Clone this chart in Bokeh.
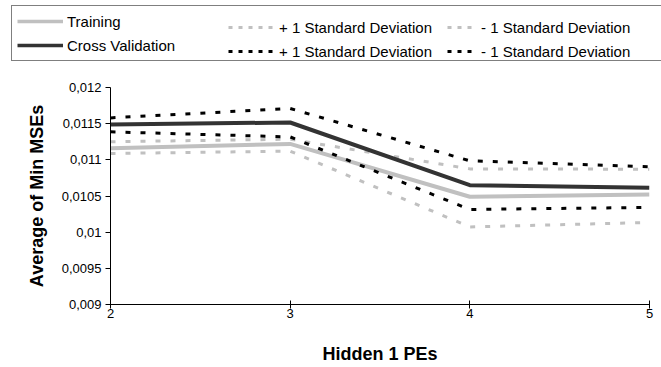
from bokeh.plotting import figure
from bokeh.models import Legend, LegendItem, FixedTicker, Range1d
from bokeh.embed import file_html
from bokeh.resources import INLINE

# ---- data ----
hidden_pes = [2, 3, 4, 5]
training = [0.01116, 0.01122, 0.01049, 0.01052]
training_plus_sd = [0.01125, 0.011285, 0.010875, 0.01087]
training_minus_sd = [0.011088, 0.01112, 0.010073, 0.010134]
cross_val = [0.01149, 0.011516, 0.01065, 0.010613]
cross_val_plus_sd = [0.01158, 0.01171, 0.010986, 0.010903]
cross_val_minus_sd = [0.011387, 0.011317, 0.010314, 0.010342]

x_ticks = [2, 3, 4, 5]
y_ticks = [0.009, 0.0095, 0.01, 0.0105, 0.011, 0.0115, 0.012]
y_tick_labels = ["0,009", "0,0095", "0,01", "0,0105", "0,011", "0,0115", "0,012"]

label_train = "Training"
label_cv = "Cross Validation"
label_plus = "+ 1 Standard Deviation"
label_minus = "- 1 Standard Deviation"

FONT = "Liberation Sans"
GRAY = "#C0C0C0"
DARK = "#333333"

styles = [
    (training_plus_sd, dict(line_color=GRAY, line_width=3, line_dash="5 10")),
    (training_minus_sd, dict(line_color=GRAY, line_width=3, line_dash="5 10")),
    (training, dict(line_color=GRAY, line_width=4)),
    (cross_val_plus_sd, dict(line_color="black", line_width=3, line_dash="5 10")),
    (cross_val_minus_sd, dict(line_color="black", line_width=3, line_dash="5 10")),
    (cross_val, dict(line_color=DARK, line_width=4)),
]

# ---- main chart ----
p = figure(width=661, height=297, output_backend="svg", toolbar_location=None,
           x_range=Range1d(2, 5), y_range=Range1d(0.009, 0.012),
           min_border_left=110, min_border_right=12, min_border_top=17, min_border_bottom=63)
p.outline_line_color = None
p.grid.visible = False
p.background_fill_color = "white"
for ys, st in styles:
    p.line(hidden_pes, ys, **st)

p.xaxis.ticker = FixedTicker(ticks=x_ticks)
p.yaxis.ticker = FixedTicker(ticks=y_ticks)
p.yaxis.major_label_overrides = {t: l for t, l in zip(y_ticks, y_tick_labels)}
p.xaxis.axis_label = "Hidden 1 PEs"
p.yaxis.axis_label = "Average of Min MSEs"
for ax in (p.xaxis[0], p.yaxis[0]):
    ax.axis_line_color = "black"
    ax.major_tick_line_color = "black"
    ax.minor_tick_line_color = None
    ax.major_label_text_font = FONT
    ax.major_label_text_font_size = "13px"
    ax.major_label_text_color = "black"
    ax.axis_label_text_font = FONT
    ax.axis_label_text_font_size = "18px"
    ax.axis_label_text_font_style = "bold"
    ax.axis_label_text_color = "black"
p.xaxis.major_tick_in = 4
p.xaxis.major_tick_out = 4
p.xaxis.major_label_standoff = 0
p.xaxis.axis_label_standoff = 23
p.yaxis.major_tick_in = 0
p.yaxis.major_tick_out = 5
p.yaxis.major_label_standoff = 4
p.yaxis.axis_label_standoff = 12

# ---- legend strip (same series, kept out of view; legend samples use finer dashes) ----
pl = figure(width=661, height=70, output_backend="svg", toolbar_location=None,
            x_range=Range1d(100, 101), y_range=Range1d(0, 1),
            x_axis_location=None, y_axis_location=None,
            min_border_left=0, min_border_right=0, min_border_top=0, min_border_bottom=0)
pl.outline_line_color = None
pl.grid.visible = False
lr = []
for ys, st in styles:
    st2 = dict(st)
    if "line_dash" in st2:
        st2["line_dash"] = "4 6"
    else:
        st2["line_width"] = 3.5
    lr.append(pl.line(hidden_pes, ys, **st2))
r_tp, r_tm, r_t, r_cp, r_cm, r_c = lr

common = dict(orientation="vertical", padding=5, spacing=4, glyph_height=20,
              label_height=20, label_text_font=FONT, label_text_font_size="15px",
              label_text_color="black", margin=0, background_fill_alpha=0)

leg_a = Legend(items=[LegendItem(label=label_train, renderers=[r_t]),
                      LegendItem(label=label_cv, renderers=[r_c])],
               location=(11, 9), glyph_width=46, label_standoff=4, label_width=600,
               border_line_color="black", border_line_width=1, **common)
leg_b = Legend(items=[LegendItem(label=label_plus, renderers=[r_tp]),
                      LegendItem(label=label_plus, renderers=[r_cp])],
               location=(228, 9), glyph_width=46, label_standoff=5,
               border_line_color=None, **common)
leg_c = Legend(items=[LegendItem(label=label_minus, renderers=[r_tm]),
                      LegendItem(label=label_minus, renderers=[r_cm])],
               location=(447, 9), glyph_width=30, label_standoff=4,
               border_line_color=None, **common)
for lg in (leg_a, leg_b, leg_c):
    pl.add_layout(lg)

open("out.html", "w").write(file_html([pl, p], INLINE))
